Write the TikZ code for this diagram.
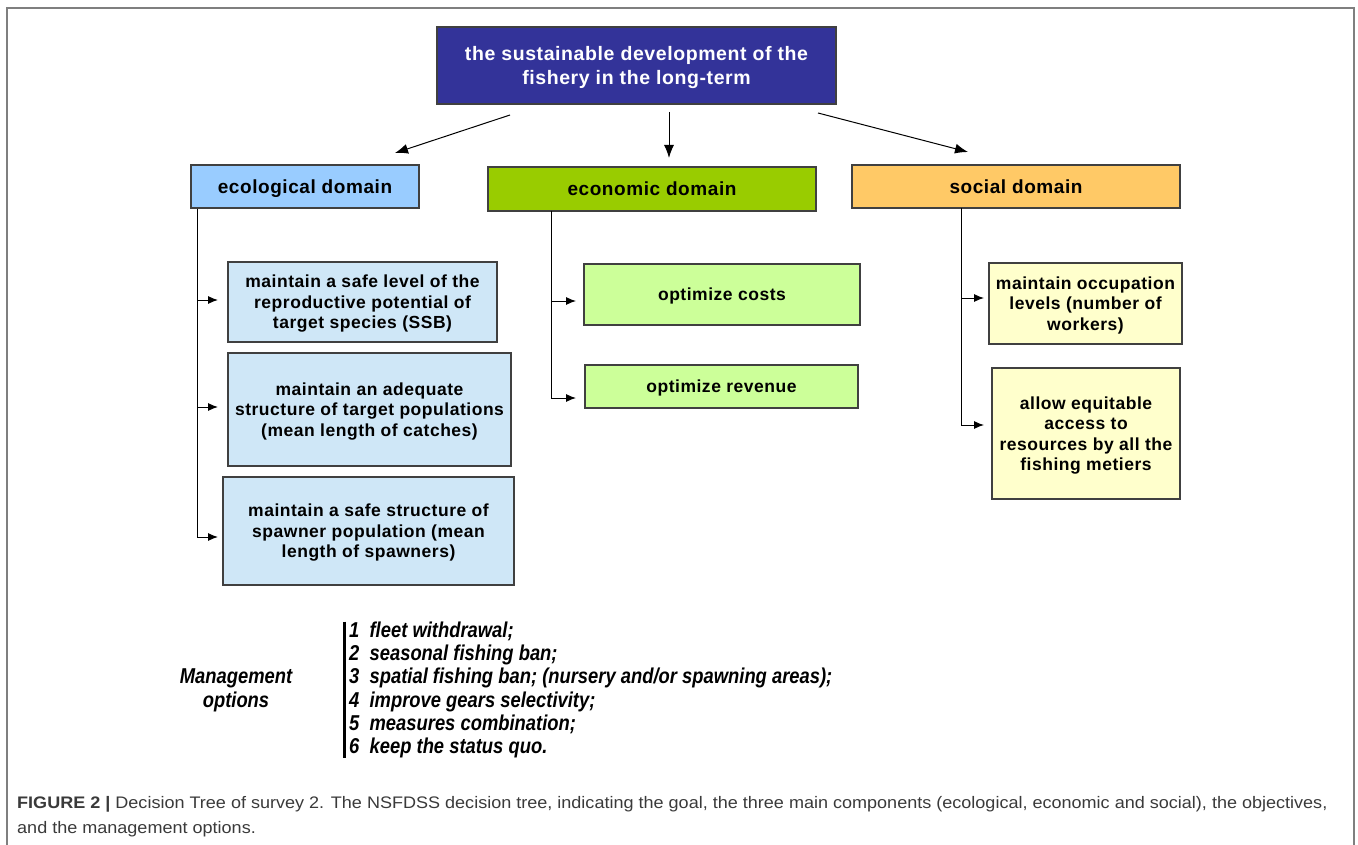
\documentclass[tikz,border=0pt]{standalone}
\usepackage{fontspec}
\setmainfont{Liberation Sans}
\newfontfamily\boxsf[LetterSpace=3]{Liberation Sans}
\newfontfamily\narrowsf[FakeStretch=0.855]{Liberation Sans}
\newfontfamily\capsf[FakeStretch=1.08]{Liberation Sans}
\usepackage{xcolor}
\usepackage{tikz}
\usetikzlibrary{shapes,arrows,arrows.meta}
\definecolor{goalblue}{HTML}{333399}
\definecolor{ecoblue}{HTML}{99CCFF}
\definecolor{ecolight}{HTML}{CFE7F7}
\definecolor{econgreen}{HTML}{99CC00}
\definecolor{econlight}{HTML}{CCFF99}
\definecolor{socorange}{HTML}{FFC966}
\definecolor{soclight}{HTML}{FFFFCC}
\definecolor{boxgray}{HTML}{404040}
\definecolor{framegray}{HTML}{7F7F7F}
\definecolor{capgray}{HTML}{3A3A3A}
\tikzstyle{line} = [draw, line width=1pt, -{Latex[length=10pt,width=8pt]}]
\tikzstyle{bigline} = [draw, line width=1pt, -{Latex[length=13pt,width=10pt]}]
\tikzstyle{box} = [draw=boxgray, line width=1.3pt, align=center, inner sep=0pt, text depth=-6pt]
\tikzstyle{objbox} = [box, font=\boxsf\bfseries\fontsize{17.5}{20.5}\selectfont]
\tikzstyle{dombox} = [box, font=\boxsf\bfseries\fontsize{19}{23}\selectfont]

\begin{document}
\begin{tikzpicture}[x=1pt,y=-1pt]
\useasboundingbox (0,0) rectangle (1358,845);
\draw[framegray, line width=1.5pt] (7,845) -- (7,8) -- (1354,8) -- (1354,845);
%
\node[box, fill=goalblue, text=white, minimum width=399pt, minimum height=77pt, text depth=-11pt,
  font=\boxsf\bfseries\fontsize{19.5}{24}\selectfont] (goal) at (636.5,65.5)
  {the sustainable development of the\\fishery in the long-term};
%
\node[dombox, fill=ecoblue, minimum width=228pt, minimum height=43pt] (eco) at (305,186.5) {ecological domain};
\node[dombox, fill=econgreen, minimum width=328pt, minimum height=44pt] (econ) at (652,189) {economic domain};
\node[dombox, fill=socorange, minimum width=328pt, minimum height=43pt] (soc) at (1016,186.5) {social domain};
%
\coordinate (g1) at (510,115); \coordinate (d1) at (395,153);
\coordinate (g2) at (669,112); \coordinate (d2) at (669,158);
\coordinate (g3) at (818,113); \coordinate (d3) at (968,152);
\path[bigline] (g1) -- (d1);
\path[bigline] (g2) -- (d2);
\path[bigline] (g3) -- (d3);
%
\node[objbox, fill=ecolight, minimum width=269pt, minimum height=80pt] (ob1) at (362.5,302)
  {maintain a safe level of the\\reproductive potential of\\target species (SSB)};
\node[objbox, fill=ecolight, minimum width=283pt, minimum height=113pt] (ob2) at (369.5,409.5)
  {maintain an adequate\\structure of target populations\\(mean length of catches)};
\node[objbox, fill=ecolight, minimum width=291pt, minimum height=108pt] (ob3) at (368.5,531)
  {maintain a safe structure of\\spawner population (mean\\length of spawners)};
%
\node[objbox, fill=econlight, minimum width=276pt, minimum height=61pt] (ec1) at (722,294.5) {optimize costs};
\node[objbox, fill=econlight, minimum width=273pt, minimum height=43pt] (ec2) at (721.5,386.5) {optimize revenue};
%
\node[objbox, fill=soclight, minimum width=193pt, minimum height=81pt] (so1) at (1085.5,303.5)
  {maintain occupation\\levels (number of\\workers)};
\node[objbox, fill=soclight, minimum width=188pt, minimum height=131pt] (so2) at (1086,433.5)
  {allow equitable\\access to\\resources by all the\\fishing metiers};
%
\coordinate (ecoT) at ([xshift=7pt]eco.south west);
\coordinate (ob1in) at (218,300);
\coordinate (ob2in) at (218,407);
\coordinate (ob3in) at (218,537);
\draw[line width=1pt] (ecoT) -- (ob3in -| ecoT);
\path[line] (ob1in -| ecoT) -- (ob1in);
\path[line] (ob2in -| ecoT) -- (ob2in);
\path[line] (ob3in -| ecoT) -- (ob3in);
%
\coordinate (econT) at (551,211);
\coordinate (ec1in) at (576,301);
\coordinate (ec2in) at (576,398);
\draw[line width=1pt] (econT) -- (ec2in -| econT);
\path[line] (ec1in -| econT) -- (ec1in);
\path[line] (ec2in -| econT) -- (ec2in);
%
\coordinate (socT) at (961,208);
\coordinate (so1in) at (984,298);
\coordinate (so2in) at (984,425);
\draw[line width=1pt] (socT) -- (so2in -| socT);
\path[line] (so1in -| socT) -- (so1in);
\path[line] (so2in -| socT) -- (so2in);
%
\node[align=center, font=\narrowsf\bfseries\itshape\fontsize{21.5}{24}\selectfont] (mgmt) at (236,690)
  {Management\\options};
\node[anchor=west, align=left, inner sep=0pt,
  font=\narrowsf\bfseries\itshape\fontsize{21.5}{23.3}\selectfont] (opts) at (349,690)
  {1\ \ fleet withdrawal;\\
   2\ \ seasonal fishing ban;\\
   3\ \ spatial fishing ban; (nursery and/or spawning areas);\\
   4\ \ improve gears selectivity;\\
   5\ \ measures combination;\\
   6\ \ keep the status quo.};
\draw[line width=3pt] ([xshift=-5pt]opts.north west) -- ([xshift=-5pt]opts.south west);
%
\node[anchor=north west, align=left, inner sep=0pt, text=capgray,
  font=\capsf\fontsize{16.7}{25}\selectfont] (cap) at (17,796)
  {\textbf{FIGURE 2 |} Decision Tree of survey 2. The NSFDSS decision tree, indicating the goal, the three main components (ecological, economic and social), the objectives,\\
   and the management options.};
\end{tikzpicture}
\end{document}
